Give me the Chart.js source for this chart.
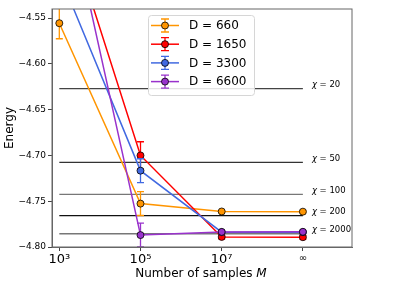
<!DOCTYPE html>
<html>
<head>
  <title>Energy vs samples</title>
  <script src="https://cdn.jsdelivr.net/npm/chart.js"></script>
  <style>
    html, body { margin: 0; padding: 0; background: #fff; }
    #wrap { width: 394px; height: 296px; }
  </style>
</head>
<body>
  <div id="wrap"><canvas id="energyChart" width="394" height="296"></canvas></div>
  <script>
    // x positions are log10(M); the last one stands for M = infinity
    const xPos = [3, 5, 7, 9];
    const xTickLabels = ['10³', '10⁵', '10⁷', '∞'];
    const yTicks = [-4.80, -4.75, -4.70, -4.65, -4.60, -4.55];

    const seriesLabels = ['D = 660', 'D = 1650', 'D = 3300', 'D = 6600'];
    const seriesColors = ['#ff9500', '#ff0000', '#4169e1', '#9932cc'];

    const energy660 = [-4.5555, -4.7526, -4.7612, -4.7614];
    const err660 = [0.017, 0.013, 0.001, 0.001];
    const energy1650 = [-4.422, -4.700, -4.7890, -4.7893];
    const err1650 = [0.02, 0.015, 0.002, 0.002];
    const energy3300 = [-4.502, -4.7166, -4.7838, -4.7838];
    const err3300 = [0.02, 0.013, 0.001, 0.001];
    const energy6600 = [-4.385, -4.787, -4.7835, -4.7834];
    const err6600 = [0.02, 0.013, 0.001, 0.001];

    // reference energies for bond dimension chi
    const chiLabels = ['20', '50', '100', '200', '2000'];
    const chiEnergy = [-4.627, -4.7076, -4.7426, -4.7658, -4.7855];
    const chiColors = ['#444', '#333', '#777', '#111', '#777'];

    const energies = [energy660, energy1650, energy3300, energy6600];
    const errors = [err660, err1650, err3300, err6600];

    const FONT = '"DejaVu Sans", sans-serif';

    const datasets = [];
    chiEnergy.forEach((e, i) => {
      datasets.push({
        label: 'chi' + chiLabels[i],
        data: [{ x: xPos[0], y: e }, { x: xPos[xPos.length - 1], y: e }],
        borderColor: chiColors[i],
        borderWidth: 1.3,
        pointRadius: 0,
        order: 10,
        isChi: true,
        chiText: chiLabels[i]
      });
    });
    energies.forEach((arr, i) => {
      datasets.push({
        label: seriesLabels[i],
        data: arr.map((v, j) => ({ x: xPos[j], y: v })),
        errs: errors[i],
        borderColor: seriesColors[i],
        backgroundColor: seriesColors[i],
        borderWidth: 1.5,
        pointRadius: 3.5,
        pointBorderColor: '#000',
        pointBorderWidth: 0.8,
        pointBackgroundColor: seriesColors[i],
        order: 4 - i
      });
    });

    // error bars, chi labels, frame and legend
    const extras = {
      id: 'extras',
      beforeDatasetDraw(chart, args) {
        const ds = chart.data.datasets[args.index];
        if (!ds.errs) return;
        const { ctx, chartArea: a } = chart;
        const xs = chart.scales.x, ys = chart.scales.y;
        ctx.save();
        ctx.beginPath();
        ctx.rect(a.left, a.top, a.right - a.left, a.bottom - a.top);
        ctx.clip();
        ctx.strokeStyle = ds.borderColor;
        ctx.lineWidth = 1.3;
        ds.data.forEach((p, j) => {
          const px = xs.getPixelForValue(p.x);
          const y1 = ys.getPixelForValue(p.y + ds.errs[j]);
          const y2 = ys.getPixelForValue(p.y - ds.errs[j]);
          ctx.beginPath();
          ctx.moveTo(px, y1); ctx.lineTo(px, y2);
          ctx.moveTo(px - 3.5, y1); ctx.lineTo(px + 3.5, y1);
          ctx.moveTo(px - 3.5, y2); ctx.lineTo(px + 3.5, y2);
          ctx.stroke();
        });
        ctx.restore();
      },
      afterDraw(chart) {
        const { ctx, chartArea: a } = chart;
        const xs = chart.scales.x, ys = chart.scales.y;
        ctx.save();

        // chi labels
        ctx.fillStyle = '#000';
        ctx.textBaseline = 'middle';
        chart.data.datasets.filter(d => d.isChi).forEach(d => {
          const px = xs.getPixelForValue(xPos[xPos.length - 1]) + 9;
          const py = ys.getPixelForValue(d.data[0].y) - 3.5;
          ctx.font = 'italic 8.5px ' + FONT;
          ctx.textAlign = 'left';
          ctx.fillText('χ', px, py);
          const w = ctx.measureText('χ').width;
          ctx.font = '8.5px ' + FONT;
          ctx.fillText(' = ' + d.chiText, px + w, py);
        });

        // frame
        ctx.strokeStyle = '#666';
        ctx.lineWidth = 1;
        ctx.strokeRect(a.left, a.top, a.right - a.left, a.bottom - a.top);

        // axis titles
        ctx.fillStyle = '#000';
        ctx.textBaseline = 'middle';
        const t1 = 'Number of samples ';
        ctx.font = '12px ' + FONT;
        const w1 = ctx.measureText(t1).width;
        ctx.font = 'italic 12px ' + FONT;
        const w2 = ctx.measureText('M').width;
        const sx = 201 - (w1 + w2) / 2;
        ctx.textAlign = 'left';
        ctx.font = '12px ' + FONT;
        ctx.fillText(t1, sx, 274);
        ctx.font = 'italic 12px ' + FONT;
        ctx.fillText('M', sx + w1, 274);

        ctx.save();
        ctx.translate(10, (a.top + a.bottom) / 2);
        ctx.rotate(-Math.PI / 2);
        ctx.font = '12px ' + FONT;
        ctx.textAlign = 'center';
        ctx.fillText('Energy', 0, 0);
        ctx.restore();

        // legend
        const lx = 148, ly = 15, lw = 106, lh = 80;
        ctx.fillStyle = 'rgba(255,255,255,0.85)';
        ctx.strokeStyle = '#d6d6d6';
        ctx.lineWidth = 1;
        ctx.beginPath();
        ctx.roundRect(lx + 0.5, ly + 0.5, lw, lh, 3);
        ctx.fill();
        ctx.stroke();
        seriesLabels.forEach((lab, i) => {
          const yy = 25.5 + i * 18.7;
          const c = seriesColors[i];
          ctx.strokeStyle = c;
          ctx.lineWidth = 1.5;
          ctx.beginPath();
          ctx.moveTo(151, yy); ctx.lineTo(179, yy);
          ctx.stroke();
          ctx.lineWidth = 1.3;
          ctx.beginPath();
          ctx.moveTo(165, yy - 6.5); ctx.lineTo(165, yy + 6.5);
          ctx.moveTo(161, yy - 6.5); ctx.lineTo(169, yy - 6.5);
          ctx.moveTo(161, yy + 6.5); ctx.lineTo(169, yy + 6.5);
          ctx.stroke();
          ctx.beginPath();
          ctx.arc(165, yy, 3.5, 0, Math.PI * 2);
          ctx.fillStyle = c;
          ctx.fill();
          ctx.strokeStyle = '#000';
          ctx.lineWidth = 0.8;
          ctx.stroke();
          ctx.fillStyle = '#000';
          ctx.font = '12px ' + FONT;
          ctx.textAlign = 'left';
          ctx.textBaseline = 'middle';
          ctx.fillText(lab, 189, yy + 0.5);
        });
        ctx.restore();
      }
    };

    new Chart(document.getElementById('energyChart'), {
      type: 'line',
      data: { datasets: datasets },
      plugins: [extras],
      options: {
        responsive: false,
        animation: false,
        events: [],
        layout: { padding: { top: 9, right: 42, left: 0, bottom: 0 } },
        plugins: { legend: { display: false }, tooltip: { enabled: false } },
        scales: {
          x: {
            type: 'linear',
            min: 2.82,
            max: 10.21,
            afterBuildTicks(scale) { scale.ticks = xPos.map(v => ({ value: v })); },
            afterFit(scale) { scale.height = 49; },
            grid: { drawOnChartArea: false, drawTicks: true, tickLength: 4, color: '#444' },
            border: { display: true, color: '#666' },
            ticks: {
              padding: 1,
              maxRotation: 0,
              autoSkip: false,
              color: '#000',
              font(c) {
                const last = c.tick && c.tick.value === xPos[xPos.length - 1];
                return { family: FONT, size: last ? 10 : 13 };
              },
              callback(v) { const k = xPos.indexOf(v); return k >= 0 ? xTickLabels[k] : ''; }
            }
          },
          y: {
            type: 'linear',
            min: -4.80,
            max: -4.54,
            afterBuildTicks(scale) { scale.ticks = yTicks.map(v => ({ value: v })); },
            afterFit(scale) { scale.width = 52; },
            grid: { drawOnChartArea: false, drawTicks: true, tickLength: 4, color: '#444' },
            border: { display: true, color: '#666' },
            ticks: {
              padding: 2,
              color: '#000',
              font: { family: FONT, size: 9 },
              callback(v) { return v.toFixed(2).replace('-', '−'); }
            }
          }
        }
      }
    });
  </script>
</body>
</html>
